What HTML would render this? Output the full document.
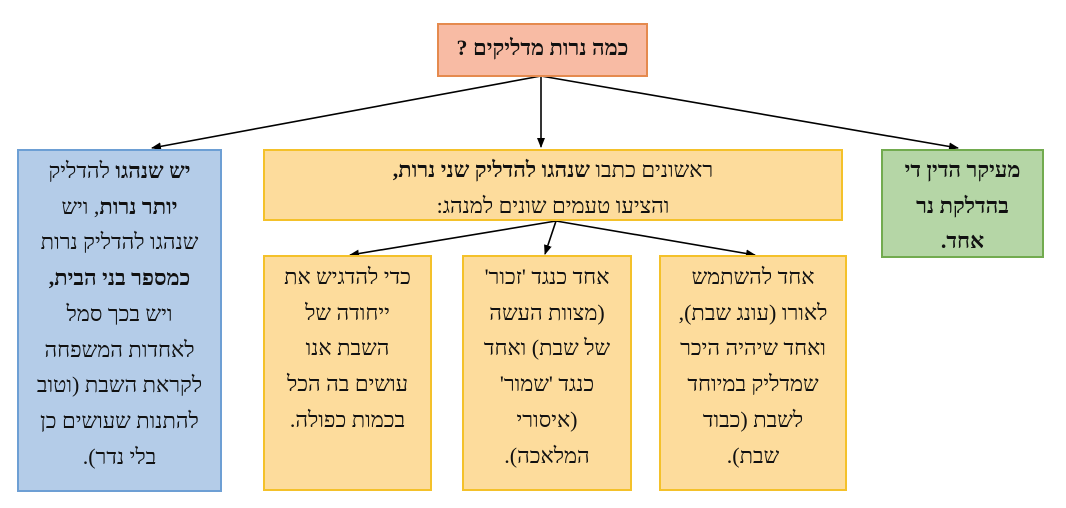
<!DOCTYPE html>
<html><head><meta charset="utf-8"><style>
body{margin:0;width:1066px;height:508px;background:#fff;position:relative;overflow:hidden;font-family:"Liberation Serif","DejaVu Serif",serif;color:#111}
.b{position:absolute;box-sizing:border-box;direction:rtl;text-align:center;font-size:22px;line-height:35.7px;white-space:nowrap}
b{font-weight:bold}
</style></head><body>
<svg width="1066" height="508" style="position:absolute;left:0;top:0">
<defs><marker id="a" markerWidth="10" markerHeight="8" refX="9" refY="4" orient="auto" markerUnits="userSpaceOnUse"><path d="M0,0 L10,4 L0,8z" fill="#000"/></marker></defs>
<g stroke="#000" stroke-width="1.6" fill="none">
<line x1="541" y1="76" x2="152" y2="148" marker-end="url(#a)"/>
<line x1="541" y1="76" x2="541" y2="147" marker-end="url(#a)"/>
<line x1="541" y1="76" x2="958" y2="148" marker-end="url(#a)"/>
<line x1="556" y1="221" x2="350" y2="255" marker-end="url(#a)"/>
<line x1="556" y1="221" x2="545" y2="254" marker-end="url(#a)"/>
<line x1="556" y1="221" x2="755" y2="255" marker-end="url(#a)"/>
</g></svg>
<div class="b" style="left:437px;top:23px;width:211px;height:54px;background:#f8bba4;border:2px solid #e58a4e;line-height:46px;font-weight:bold">כמה נרות מדליקים ?</div>
<div class="b" style="left:17px;top:149px;width:205px;height:343px;background:#b4cce8;border:2px solid #6d9fd4;padding-top:2px"><b>יש שנהגו</b> להדליק<br><b>יותר נרות</b>, ויש<br>שנהגו להדליק נרות<br><b>כמספר בני הבית,</b><br>ויש בכך סמל<br>לאחדות המשפחה<br>לקראת השבת (וטוב<br>להתנות שעושים כן<br>בלי נדר).</div>
<div class="b" style="left:263px;top:149px;width:580px;height:72px;background:#fddc9c;border:2px solid #f4c12a;padding-top:1px">ראשונים כתבו <b>שנהגו להדליק שני נרות,</b><br>והציעו טעמים שונים למנהג:</div>
<div class="b" style="left:881px;top:149px;width:163px;height:109px;background:#b5d6a6;border:2px solid #72ab4f;font-weight:bold;padding-top:1px">מעיקר הדין די<br>בהדלקת נר<br>אחד.</div>
<div class="b" style="left:263px;top:255px;width:169px;height:236px;background:#fddc9c;border:2px solid #f4c12a;padding-top:2px">כדי להדגיש את<br>ייחודה של<br>השבת אנו<br>עושים בה הכל<br>בכמות כפולה.</div>
<div class="b" style="left:462px;top:255px;width:170px;height:236px;background:#fddc9c;border:2px solid #f4c12a;padding-top:2px">אחד כנגד 'זכור'<br>(מצוות העשה<br>של שבת) ואחד<br>כנגד 'שמור'<br>(איסורי<br>המלאכה).</div>
<div class="b" style="left:659px;top:255px;width:188px;height:236px;background:#fddc9c;border:2px solid #f4c12a;padding-top:2px">אחד להשתמש<br>לאורו (עונג שבת),<br>ואחד שיהיה היכר<br>שמדליק במיוחד<br>לשבת (כבוד<br>שבת).</div>
</body></html>
